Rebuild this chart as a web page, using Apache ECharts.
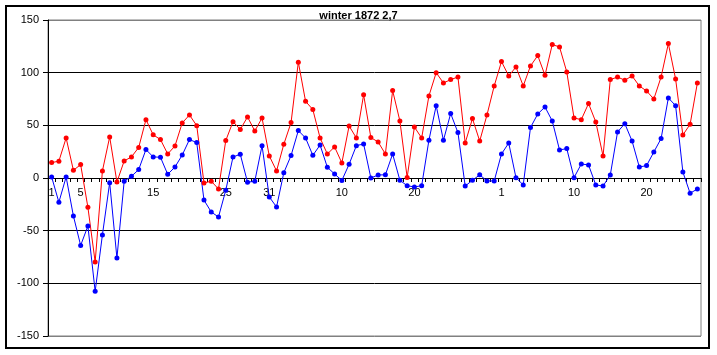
<!DOCTYPE html>
<html><head><meta charset="utf-8">
<script src="https://cdn.jsdelivr.net/npm/echarts@6/dist/echarts.min.js"></script>
<style>html,body{margin:0;padding:0;background:#fff}#c{width:717px;height:355px}</style>
</head><body><div id="c"></div>
<script>
const title = 'winter 1872 2,7';
const monthLengths = [['Dec', 31], ['Jan', 31], ['Feb', 28]];
const categories = [];
monthLengths.forEach(([m, n]) => { for (let d = 1; d <= n; d++) categories.push(m + ' ' + d); });

const tickLabelPos = [0, 4, 14, 24, 30, 40, 50, 62, 72, 82];
const tickLabelText = ['1', '5', '15', '25', '31', '10', '20', '1', '10', '20'];

const redDec = [14.6, 16, 38, 7.3, 12.7, -27.8, -79.7, 6.7, 39, -3.8, 16.2, 20, 29, 55.4, 41, 36.5, 22.8, 30.4, 52.3, 59.8, 49.7, -4.7, -3.1, -10.4, 35.5, 53.5, 46, 58, 44.6, 57, 21];
const redJan = [6.7, 32, 52.6, 110, 72.8, 65, 38, 22.8, 29.5, 14.3, 49.4, 38, 79, 38.4, 34.2, 22.8, 83, 54.1, 0.5, 48.4, 38, 77.9, 100, 90.2, 93.4, 95.9, 33.2, 56.4, 35.1, 59.8, 87.4];
const redFeb = [110.5, 96.9, 105.4, 87.4, 106.4, 116.2, 97.5, 126.7, 124.4, 100.7, 57, 55.4, 70.7, 53.2, 20.9, 93.4, 95.9, 92.8, 96.9, 87.4, 82.6, 75, 95.9, 127.6, 94, 40.8, 51, 90.2];

const blueDec = [1, -23, 1, -36, -64, -45.6, -107.6, -54, -4.4, -76, -3, 1.6, 8, 27, 20, 19.7, 3.5, 10.4, 21.8, 36.5, 33.6, -21, -32.3, -37, -11.7, 20, 22.5, -4, -3.1, 30.7, -18];
const blueJan = [-27.5, 5, 21.3, 45, 38, 21.5, 31.3, 10.2, 3.8, -2.3, 13, 30.7, 32.3, 0, 2.9, 3, 22.8, -2.2, -7.3, -8.5, -7.3, 35.8, 68.7, 35.8, 61.2, 43.1, -7.6, -2.2, 3, -2.8, -2.8];
const blueFeb = [22.8, 33.2, 0.3, -6.6, 47.9, 60.8, 67.4, 54.1, 26.6, 27.9, 0.3, 13.3, 12.4, -6.6, -7.6, 2.9, 43.7, 51.6, 35.1, 10.4, 11.8, 24.7, 37.4, 76, 68.7, 5.7, -14.5, -10.4];

const redSeries = redDec.concat(redJan, redFeb);
const blueSeries = blueDec.concat(blueJan, blueFeb);

const yMin = -150, yMax = 150, yStep = 50;
const gridTop = 20, gridBottom = 19, chartH = 355;
const plotH = chartH - gridTop - gridBottom;
const zeroOffset = -plotH * (0 - yMin) / (yMax - yMin);

const chart = echarts.init(document.getElementById('c'), null, {renderer: 'canvas'});
const font = "'Liberation Sans', Arial, sans-serif";
chart.setOption({
  animation: false,
  backgroundColor: '#ffffff',
  title: {
    text: title, left: 'center', top: 10, padding: 0,
    textStyle: {fontFamily: font, fontSize: 11, fontWeight: 'bold', color: '#000'}
  },
  graphic: [{
    type: 'rect', shape: {x: 6, y: 6, width: 703, height: 342},
    style: {fill: 'none', stroke: '#000', lineWidth: 2}, silent: true, z: 100
  }],
  grid: {left: 48, right: 16, top: gridTop, bottom: gridBottom, show: true, borderColor: '#808080', borderWidth: 1, backgroundColor: 'transparent', containLabel: false},
  xAxis: {
    type: 'category', data: categories, boundaryGap: true, position: 'bottom', offset: zeroOffset,
    axisLine: {show: true, onZero: false, lineStyle: {color: '#000', width: 1}},
    axisTick: {show: true, interval: 0, length: 4, inside: false, lineStyle: {color: '#000'}},
    axisLabel: {
      interval: 0, margin: 9, color: '#000', fontFamily: font, fontSize: 11, hideOverlap: false,
      formatter: (v, i) => { const k = tickLabelPos.indexOf(i); return k >= 0 ? tickLabelText[k] : ''; }
    },
    splitLine: {show: false}
  },
  yAxis: {
    type: 'value', min: yMin, max: yMax, interval: yStep,
    axisLine: {show: true, lineStyle: {color: '#000', width: 1}},
    axisTick: {show: true, length: 5, lineStyle: {color: '#000'}},
    axisLabel: {margin: 9, color: '#000', fontFamily: font, fontSize: 11},
    splitLine: {show: true, lineStyle: {color: ['#808080', '#000', '#000', '#000', '#000', '#000', '#808080'], width: 1}}
  },
  series: [
    {type: 'line', data: redSeries, symbol: 'circle', symbolSize: 5, showSymbol: true,
     lineStyle: {color: '#ff0000', width: 1}, itemStyle: {color: '#ff0000'}},
    {type: 'line', data: blueSeries, symbol: 'circle', symbolSize: 5, showSymbol: true,
     lineStyle: {color: '#0000ff', width: 1}, itemStyle: {color: '#0000ff'}}
  ]
});
</script></body></html>
